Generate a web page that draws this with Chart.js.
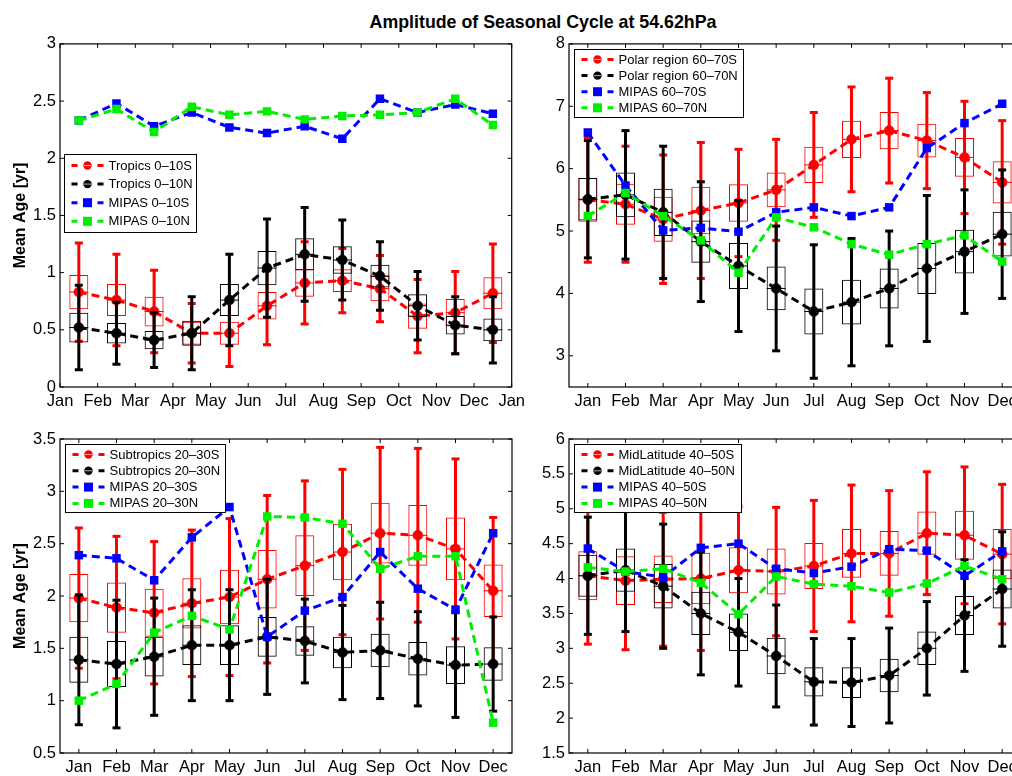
<!DOCTYPE html>
<html><head><meta charset="utf-8">
<script src="https://cdn.jsdelivr.net/npm/chart.js@4.4.1/dist/chart.umd.min.js"></script>
<style>
html,body{margin:0;padding:0;width:1012px;height:776px;overflow:hidden;background:#fff;}
canvas{position:absolute;}
#title{position:absolute;left:343px;width:400px;top:12px;text-align:center;font:bold 17.8px 'Liberation Sans',Arial,sans-serif;line-height:20px;color:#000;}
</style></head><body>
<div id="title">Amplitude of Seasonal Cycle at 54.62hPa</div>
<canvas id="p1" width="530" height="390" style="left:0px;top:30px"></canvas>
<canvas id="p2" width="530" height="390" style="left:509px;top:30px"></canvas>
<canvas id="p3" width="530" height="356" style="left:0px;top:420px"></canvas>
<canvas id="p4" width="530" height="356" style="left:509px;top:420px"></canvas>
<script>
// ---------- data ----------
const months = ['Jan','Feb','Mar','Apr','May','Jun','Jul','Aug','Sep','Oct','Nov','Dec'];
const monthsWrap = ['Jan','Feb','Mar','Apr','May','Jun','Jul','Aug','Sep','Oct','Nov','Dec','Jan'];

// Panel 1: Tropics
const trop10S_mean = [0.83,0.76,0.66,0.47,0.47,0.71,0.91,0.93,0.86,0.62,0.65,0.82];
const trop10S_box  = [0.15,0.14,0.13,0.10,0.10,0.12,0.12,0.10,0.11,0.11,0.12,0.14];
const trop10S_err  = [0.43,0.40,0.36,0.26,0.29,0.34,0.36,0.28,0.29,0.32,0.36,0.43];
const trop10N_mean = [0.52,0.47,0.41,0.47,0.76,1.04,1.16,1.11,0.97,0.71,0.54,0.50];
const trop10N_box  = [0.13,0.09,0.08,0.11,0.14,0.15,0.14,0.12,0.10,0.10,0.08,0.10];
const trop10N_err  = [0.37,0.27,0.24,0.32,0.40,0.43,0.41,0.35,0.30,0.30,0.25,0.29];
const mipas0_10S   = [2.33,2.48,2.28,2.40,2.27,2.22,2.28,2.17,2.52,2.40,2.47,2.39];
const mipas0_10N   = [2.33,2.43,2.23,2.45,2.38,2.41,2.34,2.37,2.38,2.40,2.52,2.29];

// Panel 2: Polar
const polarS_mean = [5.50,5.43,5.19,5.33,5.45,5.66,6.06,6.47,6.61,6.45,6.18,5.78];
const polarS_box  = [0.35,0.33,0.36,0.38,0.30,0.28,0.29,0.30,0.30,0.27,0.31,0.34];
const polarS_err  = [1.00,0.93,1.03,1.09,0.86,0.81,0.84,0.84,0.84,0.77,0.90,0.99];
const polarN_mean = [5.51,5.58,5.30,4.83,4.44,4.08,3.71,3.86,4.08,4.40,4.67,4.95];
const polarN_box  = [0.34,0.36,0.38,0.34,0.37,0.35,0.37,0.36,0.32,0.41,0.35,0.36];
const polarN_err  = [0.94,1.03,1.06,0.96,1.05,1.00,1.07,1.02,0.92,1.17,0.99,1.03];
const mipas60_70S = [6.58,5.73,5.01,5.05,4.99,5.30,5.38,5.24,5.38,6.33,6.73,7.04];
const mipas60_70N = [5.24,5.61,5.24,4.85,4.33,5.22,5.06,4.79,4.62,4.79,4.93,4.51];

// Panel 3: Subtropics
const subS_mean = [1.98,1.89,1.84,1.93,1.99,2.16,2.29,2.42,2.60,2.58,2.45,2.05];
const subS_box  = [0.23,0.24,0.23,0.24,0.26,0.28,0.29,0.27,0.29,0.29,0.30,0.25];
const subS_err  = [0.67,0.68,0.68,0.70,0.75,0.80,0.81,0.79,0.82,0.83,0.86,0.70];
const subN_mean = [1.39,1.35,1.42,1.53,1.53,1.61,1.57,1.46,1.48,1.40,1.34,1.35];
const subN_box  = [0.22,0.22,0.19,0.19,0.19,0.19,0.14,0.15,0.16,0.16,0.18,0.16];
const subN_err  = [0.62,0.61,0.56,0.53,0.53,0.55,0.40,0.45,0.46,0.45,0.50,0.45];
const mipas20_30S = [2.39,2.36,2.15,2.56,2.85,1.61,1.86,1.99,2.42,2.07,1.87,2.60];
const mipas20_30N = [1.00,1.16,1.65,1.81,1.68,2.76,2.75,2.69,2.26,2.38,2.38,0.79];

// Panel 4: Mid-latitudes
const midS_mean = [4.04,3.97,3.99,4.00,4.12,4.10,4.18,4.36,4.36,4.65,4.62,4.35];
const midS_box  = [0.35,0.35,0.34,0.37,0.33,0.33,0.33,0.35,0.32,0.31,0.35,0.36];
const midS_err  = [0.98,0.99,0.96,1.03,0.91,0.92,0.94,0.98,0.90,0.88,0.98,1.00];
const midN_mean = [4.04,4.12,3.89,3.50,3.23,2.89,2.52,2.51,2.61,3.00,3.47,3.85];
const midN_box  = [0.30,0.31,0.32,0.31,0.27,0.26,0.21,0.22,0.24,0.24,0.28,0.28];
const midN_err  = [0.84,0.88,0.89,0.88,0.77,0.73,0.62,0.63,0.68,0.67,0.80,0.82];
const mipas40_50S = [4.43,4.10,4.02,4.44,4.50,4.14,4.08,4.17,4.42,4.40,4.04,4.39];
const mipas40_50N = [4.16,4.10,4.14,3.94,3.49,4.03,3.92,3.89,3.80,3.93,4.18,3.99];

// tick values
const xTicksEdge = [0.5,1.5,2.5,3.5,4.5,5.5,6.5,7.5,8.5,9.5,10.5,11.5,12.5];
const xTicksMid  = [1,2,3,4,5,6,7,8,9,10,11,12];
const yTicks1 = [0,0.5,1,1.5,2,2.5,3];
const yTicks2 = [3,4,5,6,7,8];
const yTicks3 = [0.5,1,1.5,2,2.5,3,3.5];
const yTicks4 = [1.5,2,2.5,3,3.5,4,4.5,5,5.5,6];

// ---------- rendering ----------
const RED='#ff0000', BLACK='#000000', BLUE='#0000ff', GREEN='#00ee00';
Chart.defaults.font.family = "'Liberation Sans', Arial, sans-serif";
Chart.defaults.color = '#000';

const pts = arr => arr.map((v,i)=>({x:i+1,y:v}));

function errSeries(label, color, mean, box, err, order){
  return [
    {type:'bar', data: mean.map((v,i)=>({x:i+1,y:[v-box[i],v+box[i]]})), backgroundColor:'rgba(0,0,0,0)',
     borderColor:color, borderWidth:1, borderSkipped:false, barThickness:19, grouped:false, inflateAmount:0, order:order+4},
    {type:'bar', data: mean.map((v,i)=>({x:i+1,y:[v-err[i],v+err[i]]})), backgroundColor:color,
     borderWidth:0, barThickness:3, grouped:false, inflateAmount:0, order:order+3},
    {type:'line', showLine:false, data: mean.flatMap((v,i)=>[{x:i+1,y:v-err[i]},{x:i+1,y:v+err[i]}]),
     pointStyle:'line', pointRadius:4, pointBorderWidth:3, pointBorderColor:color, order:order+2},
    {type:'line', showLine:false, data: pts(mean), pointStyle:'line', pointRadius:9.5, pointBorderWidth:1,
     pointBorderColor:color, order:order+1},
    {type:'line', label, isMain:true, marker:'circle', data: pts(mean), borderColor:color, backgroundColor:color,
     borderWidth:3, borderDash:[8,5], pointStyle:'circle', pointRadius:5, pointBackgroundColor:color,
     pointBorderColor:color, pointBorderWidth:0.5, order:order}
  ];
}
function mipasSeries(label, color, vals, order){
  return {type:'line', label, isMain:true, marker:'square', data: pts(vals), borderColor:color, backgroundColor:color,
    borderWidth:3, borderDash:[8,5], pointStyle:'rect', pointRadius:6, pointBackgroundColor:color,
    pointBorderColor:color, pointBorderWidth:0, order};
}

const mlPlugin = {
  id:'ml',
  afterDraw(chart, args, o){
    const ctx = chart.ctx, a = chart.chartArea;
    ctx.save();
    // frame
    ctx.strokeStyle = '#000'; ctx.lineWidth = 1.2;
    ctx.strokeRect(a.left, a.top, a.right-a.left, a.bottom-a.top);
    ctx.lineWidth = 1;
    const tl = 4;
    ctx.beginPath();
    chart.scales.x.ticks.forEach(t=>{
      const px = chart.scales.x.getPixelForValue(t.value);
      ctx.moveTo(px, a.bottom); ctx.lineTo(px, a.bottom - tl);
      ctx.moveTo(px, a.top); ctx.lineTo(px, a.top + tl);
    });
    chart.scales.y.ticks.forEach(t=>{
      const py = chart.scales.y.getPixelForValue(t.value);
      ctx.moveTo(a.left, py); ctx.lineTo(a.left + tl, py);
      ctx.moveTo(a.right, py); ctx.lineTo(a.right - tl, py);
    });
    ctx.stroke();
    // legend
    const L = Math.round(a.left + o.dx) + 0.5, T = Math.round(a.top + o.dy) + 0.5;
    ctx.fillStyle = '#fff'; ctx.fillRect(L, T, o.w, o.h);
    ctx.strokeStyle = '#000'; ctx.lineWidth = 1; ctx.strokeRect(L, T, o.w, o.h);
    const mains = chart.data.datasets.filter(d=>d.isMain);
    mains.forEach((d,k)=>{
      const y = T + o.first + k*o.rowH;
      ctx.strokeStyle = d.borderColor; ctx.lineWidth = 3;
      ctx.beginPath();
      ctx.moveTo(L+7,y); ctx.lineTo(L+13,y);
      ctx.moveTo(L+33,y); ctx.lineTo(L+39,y);
      ctx.stroke();
      ctx.fillStyle = d.borderColor;
      if (d.marker === 'circle'){
        ctx.beginPath(); ctx.arc(L+23, y, 4.2, 0, Math.PI*2); ctx.fill();
        ctx.strokeStyle = d.borderColor === BLACK ? 'rgba(255,255,255,0.7)' : 'rgba(255,170,170,0.9)';
        ctx.lineWidth = 1;
        ctx.beginPath(); ctx.moveTo(L+19.5, y); ctx.lineTo(L+26.5, y); ctx.stroke();
      } else {
        ctx.fillRect(L+23-4.5, y-4.5, 9, 9);
      }
      ctx.fillStyle = '#000';
      ctx.font = "13px 'Liberation Sans', Arial, sans-serif";
      ctx.textBaseline = 'middle'; ctx.textAlign = 'left';
      ctx.fillText(d.label, L+44, y+0.5);
    });
    ctx.restore();
  }
};

function makePanel(id, cfg){
  new Chart(document.getElementById(id), {
    type:'line',
    data:{ datasets: cfg.datasets },
    options:{
      responsive:false, animation:false, events:[], devicePixelRatio:1,
      layout:{ autoPadding:false, padding:{ left:0, top:cfg.padTop, right:18, bottom:0 } },
      plugins:{ legend:{display:false}, tooltip:{enabled:false}, ml: cfg.legend },
      scales:{
        x:{ type:'linear', min:0.5, max:12.5, offset:false,
            afterBuildTicks: s=>{ s.ticks = cfg.xTicks.map(v=>({value:v})); },
            afterFit: s=>{ s.height = cfg.xH; },
            ticks:{ callback:(v,i)=>cfg.xLabels[i], autoSkip:false, maxRotation:0, minRotation:0, padding:5,
                    font:{size:16.5}, color:'#000' },
            grid:{ display:false, drawTicks:false, offset:false }, border:{ display:false } },
        y:{ type:'linear', min:cfg.yMin, max:cfg.yMax, offset:false,
            afterBuildTicks: s=>{ s.ticks = cfg.yTicks.map(v=>({value:v})); },
            afterFit: s=>{ s.width = 60; },
            ticks:{ callback:v=>String(v), autoSkip:false, padding:4, font:{size:16.5}, color:'#000' },
            title:{ display:cfg.yTitle, text:'Mean Age [yr]', font:{size:16, weight:'bold'}, color:'#000',
                    padding:{top:11,bottom:0} },
            grid:{ display:false, drawTicks:false }, border:{ display:false } }
      }
    },
    plugins:[mlPlugin]
  });
}

makePanel('p1', {
  padTop:12, xH:33, yMin:0, yMax:3, yTicks:yTicks1, xTicks:xTicksEdge, xLabels:monthsWrap, yTitle:true,
  legend:{dx:4.3, dy:110.3, w:132, h:78, first:11, rowH:18.6},
  datasets:[
    ...errSeries('Tropics 0–10S', RED, trop10S_mean, trop10S_box, trop10S_err, 40),
    ...errSeries('Tropics 0–10N', BLACK, trop10N_mean, trop10N_box, trop10N_err, 30),
    mipasSeries('MIPAS 0–10S', BLUE, mipas0_10S, 20),
    mipasSeries('MIPAS 0–10N', GREEN, mipas0_10N, 10)
  ]
});
makePanel('p2', {
  padTop:12, xH:33, yMin:2.5, yMax:8, yTicks:yTicks2, xTicks:xTicksMid, xLabels:months, yTitle:false,
  legend:{dx:5, dy:5.3, w:169, h:68, first:10, rowH:16.1},
  datasets:[
    ...errSeries('Polar region 60–70S', RED, polarS_mean, polarS_box, polarS_err, 40),
    ...errSeries('Polar region 60–70N', BLACK, polarN_mean, polarN_box, polarN_err, 30),
    mipasSeries('MIPAS 60–70S', BLUE, mipas60_70S, 20),
    mipasSeries('MIPAS 60–70N', GREEN, mipas60_70N, 10)
  ]
});
makePanel('p3', {
  padTop:19, xH:23, yMin:0.5, yMax:3.5, yTicks:yTicks3, xTicks:xTicksMid, xLabels:months, yTitle:true,
  legend:{dx:5.2, dy:5.3, w:160, h:68, first:10, rowH:16.3},
  datasets:[
    ...errSeries('Subtropics 20–30S', RED, subS_mean, subS_box, subS_err, 40),
    ...errSeries('Subtropics 20–30N', BLACK, subN_mean, subN_box, subN_err, 30),
    mipasSeries('MIPAS 20–30S', BLUE, mipas20_30S, 20),
    mipasSeries('MIPAS 20–30N', GREEN, mipas20_30N, 10)
  ]
});
makePanel('p4', {
  padTop:19, xH:23, yMin:1.5, yMax:6, yTicks:yTicks4, xTicks:xTicksMid, xLabels:months, yTitle:false,
  legend:{dx:5, dy:5.3, w:167, h:68, first:10, rowH:16.3},
  datasets:[
    ...errSeries('MidLatitude 40–50S', RED, midS_mean, midS_box, midS_err, 40),
    ...errSeries('MidLatitude 40–50N', BLACK, midN_mean, midN_box, midN_err, 30),
    mipasSeries('MIPAS 40–50S', BLUE, mipas40_50S, 20),
    mipasSeries('MIPAS 40–50N', GREEN, mipas40_50N, 10)
  ]
});
</script>
</body></html>
